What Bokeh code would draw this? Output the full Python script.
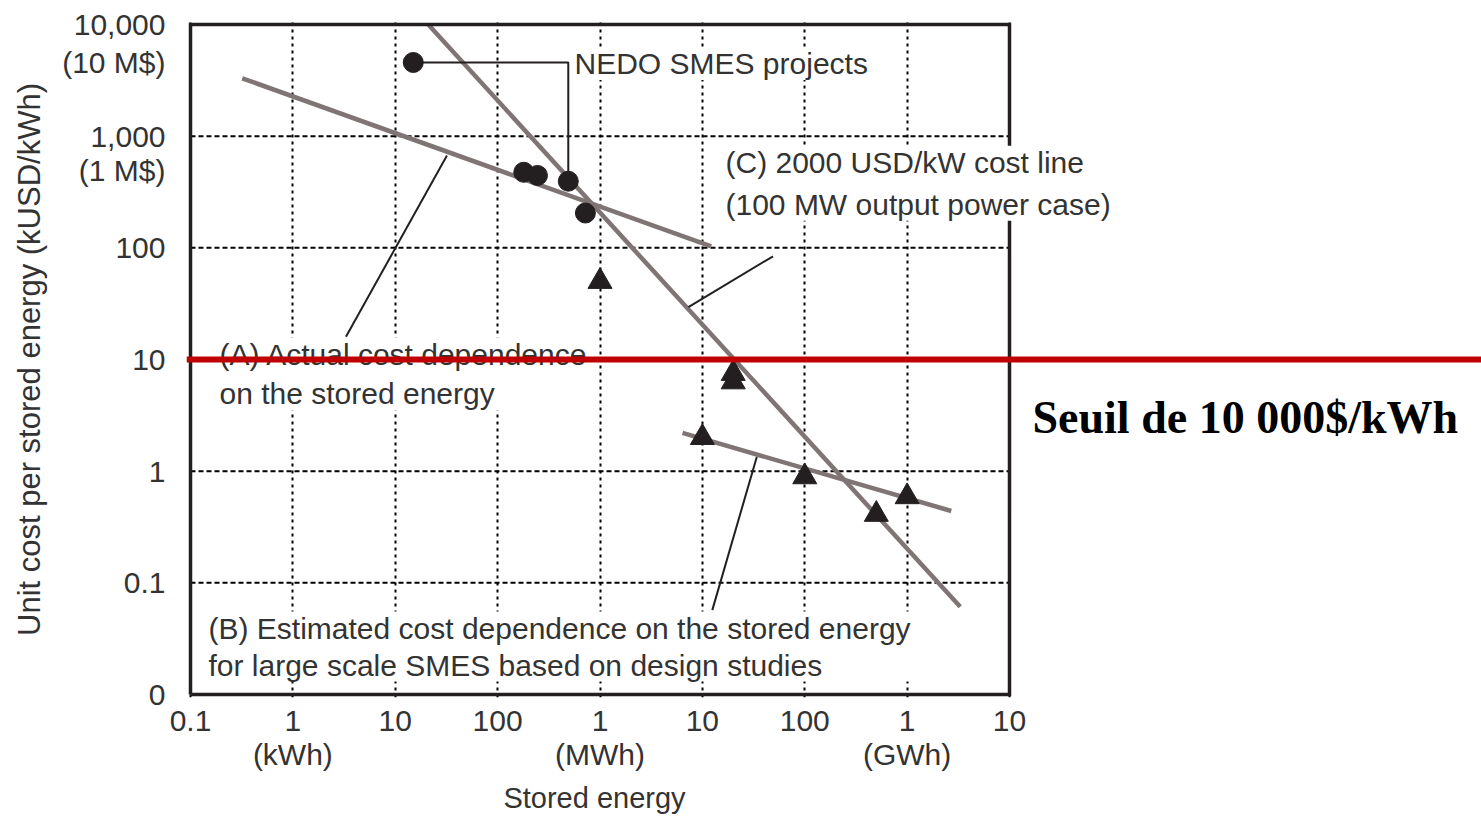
from bokeh.plotting import figure
from bokeh.models import Range1d, FixedTicker, Label, Span, LogAxis
from bokeh.embed import file_html
from bokeh.resources import INLINE

# ---------------- data (stored energy in kWh, unit cost in kUSD/kWh) ----------------
nedo_energy = [15, 180, 245, 490, 720]
nedo_cost = [4570, 475, 445, 395, 205]

design_energy = [1000, 20000, 20000, 10000, 100000, 500000, 1000000]
design_cost = [50, 7.5, 6.3, 2.0, 0.89, 0.41, 0.59]

line_a_energy = [0.32, 12200]
line_a_cost = [3300, 103]
line_b_energy = [6400, 2.7e6]
line_b_cost = [2.2, 0.44]
line_c_energy = [21, 3.3e6]
line_c_cost = [10000, 0.061]

callout_nedo_x = [15, 490, 490]
callout_nedo_y = [4570, 4570, 395]
callout_a_x = [32, 3.3]
callout_a_y = [670, 16]
callout_c_x = [49000, 7300]
callout_c_y = [84, 29.5]
callout_b_x = [34000, 12500]
callout_b_y = [1.34, 0.057]

x_ticks = [0.1, 1, 10, 100, 1e3, 1e4, 1e5, 1e6, 1e7]
x_tick_labels = ["0.1", "1", "10", "100", "1", "10", "100", "1", "10"]
x_unit_ticks = [1, 1e3, 1e6]
x_unit_labels = ["(kWh)", "(MWh)", "(GWh)"]
x_title = "Stored energy"
y_ticks = [0.01, 0.1, 1, 10, 100, 1000, 10000]
y_tick_labels = ["0", "0.1", "1", "10", "100", "1,000", "10,000"]
y_sub_labels = ["(10 M$)", "(1 M$)"]
y_title = "Unit cost per stored energy (kUSD/kWh)"
threshold = 10

# ---------------- layout helpers (page pixels -> data) ----------------
BOX_L, BOX_R, BOX_T, BOX_B = 190, 1009, 24, 695
DEC_X = (BOX_R - BOX_L) / 8.0
DEC_Y = (BOX_B - BOX_T) / 6.0
W, H = 1481, 816
FR_L, FR_T, FR_B = 186, 21, 698


def xv(px):
    return 10 ** (-1 + (px - BOX_L) / DEC_X)


def yv(py):
    return 10 ** (4 - (py - BOX_T) / DEC_Y)


FONT = "Liberation Sans"
TXT = "#333333"
CURVE = "#7f7575"
INK = "#231f20"
FS = "30px"

p = figure(width=W, height=H, x_axis_type="log", y_axis_type="log",
           x_range=Range1d(xv(FR_L), xv(W)), y_range=Range1d(yv(FR_B), yv(FR_T)),
           output_backend="svg", toolbar_location=None,
           min_border_left=FR_L, min_border_right=0, min_border_top=FR_T, min_border_bottom=H - FR_B)
p.outline_line_color = None
p.background_fill_color = "white"
p.border_fill_color = "white"

# y tick positions for the second-line labels under 10,000 and 1,000
y_sub_ticks = [yv(62), yv(170)]
y_all_ticks = y_ticks + y_sub_ticks
y_all_labels = dict(zip(y_ticks, y_tick_labels))
y_all_labels.update(dict(zip(y_sub_ticks, y_sub_labels)))


def style_axis(ax, standoff, size=FS):
    ax.axis_line_color = None
    ax.major_tick_line_color = None
    ax.minor_tick_line_color = None
    ax.major_tick_out = 0
    ax.major_tick_in = 0
    ax.major_label_text_font = FONT
    ax.major_label_text_font_size = size
    ax.major_label_text_color = TXT
    ax.major_label_standoff = standoff


xax = p.below[0]
xax.ticker = FixedTicker(ticks=x_ticks)
xax.major_label_overrides = dict(zip(x_ticks, x_tick_labels))
style_axis(xax, 13)

yax = p.left[0]
yax.ticker = FixedTicker(ticks=y_all_ticks)
yax.major_label_overrides = y_all_labels
yax.bounds = (y_ticks[0], y_ticks[-1])
style_axis(yax, 21)
yax.axis_label = y_title
yax.axis_label_text_font = FONT
yax.axis_label_text_font_size = "31px"
yax.axis_label_text_font_style = "normal"
yax.axis_label_text_color = TXT
yax.axis_label_standoff = 12

# second bottom axis: unit names
uax = LogAxis(ticker=FixedTicker(ticks=x_unit_ticks),
              major_label_overrides=dict(zip(x_unit_ticks, x_unit_labels)))
style_axis(uax, 4)
p.add_layout(uax, "below")

# third bottom axis: title, centred under the plot box
title_pos = xv(594)
tax = LogAxis(ticker=FixedTicker(ticks=[title_pos]),
              major_label_overrides={title_pos: x_title})
style_axis(tax, 8, size="29px")
p.add_layout(tax, "below")

# grid
p.xgrid.ticker = FixedTicker(ticks=x_ticks)
p.xgrid.grid_line_color = "black"
p.xgrid.grid_line_width = 2
p.xgrid.grid_line_dash = "3 4"
p.ygrid.grid_line_color = None
inner_y = y_ticks[1:-1]
p.segment(x0=[x_ticks[0]] * len(inner_y), x1=[x_ticks[-1]] * len(inner_y),
          y0=inner_y, y1=inner_y, line_color="black", line_width=2, line_dash="5 3")

# curves
for xs, ys in ((line_a_energy, line_a_cost), (line_b_energy, line_b_cost), (line_c_energy, line_c_cost)):
    p.line(xs, ys, line_color=CURVE, line_width=4.5)

# callouts
for xs, ys in ((callout_nedo_x, callout_nedo_y), (callout_a_x, callout_a_y),
               (callout_c_x, callout_c_y), (callout_b_x, callout_b_y)):
    p.line(xs, ys, line_color=INK, line_width=2)

# markers
p.scatter(nedo_energy, nedo_cost, marker="circle", size=20, color=INK)
p.scatter(design_energy, design_cost, marker="triangle", size=24, color=INK)

# plot box
bx = [x_ticks[0], x_ticks[-1], x_ticks[-1], x_ticks[0], x_ticks[0]]
by = [y_ticks[0], y_ticks[0], y_ticks[-1], y_ticks[-1], y_ticks[0]]
p.line(bx, by, line_color=INK, line_width=3.5, line_join="miter")


def lab(text, x, y, align="left", size=FS, font=FONT, style="normal", color=TXT, bg=None, lh=1.2):
    return Label(x=x, y=y, text=text, text_align=align, text_baseline="middle",
                 text_font=font, text_font_size=size, text_font_style=style,
                 text_color=color, background_fill_color=bg, text_line_height=lh)


# annotations
p.add_layout(lab("NEDO SMES projects", xv(574), yv(63), bg="white"))
p.add_layout(lab("(C) 2000 USD/kW cost line\n(100 MW output power case)", xv(725), yv(183), bg="white", lh=1.27))
p.add_layout(lab("(A) Actual cost dependence\non the stored energy", xv(219), yv(374), bg="white", lh=1.21))
p.add_layout(lab("(B) Estimated cost dependence on the stored energy\nfor large scale SMES based on design studies",
                 xv(208), yv(647), bg="white", lh=1.12))

# threshold
p.add_layout(Span(location=threshold, dimension="width", line_color="#C00000", line_width=6))
p.add_layout(lab("Seuil de 10 000$/kWh", xv(1032), yv(418), size="46px", font="Liberation Serif",
                 style="bold", color="black"))

open("out.html", "w").write(file_html(p, INLINE))
